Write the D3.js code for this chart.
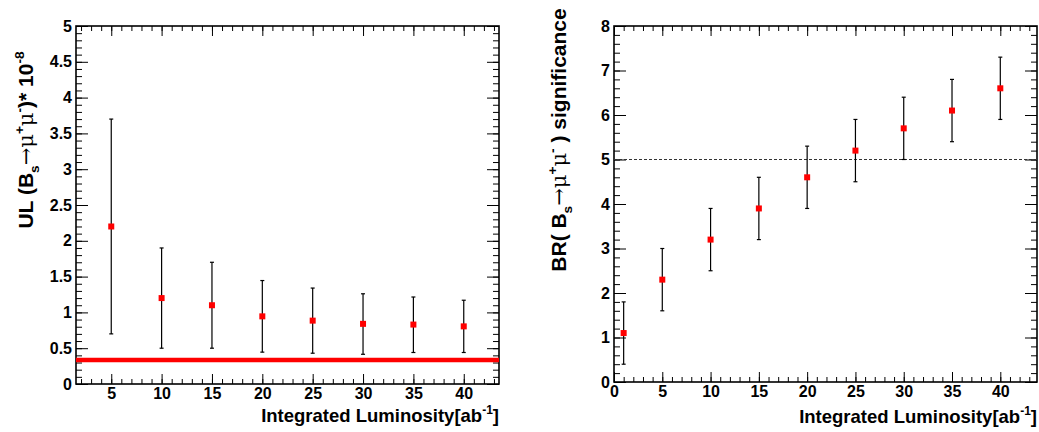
<!DOCTYPE html>
<html>
<head>
<meta charset="utf-8">
<script src="https://cdn.jsdelivr.net/npm/d3@7"></script>
<style>
  body { margin: 0; background: #fff; }
  svg { display: block; }
  text { font-family: "Liberation Sans", Arial, sans-serif; font-weight: bold; fill: #000; }
  .tick line { stroke: #000; stroke-width: 1; }
  .axis path.domain { display: none; }
</style>
</head>
<body>
<div id="chart"></div>
<script>
// left panel: upper limit vs luminosity
const ulLumi = [5, 10, 15, 20, 25, 30, 35, 40];
const ulValue = [2.2, 1.2, 1.1, 0.945, 0.885, 0.84, 0.83, 0.805];
const ulLow = [0.7, 0.5, 0.5, 0.445, 0.43, 0.415, 0.44, 0.44];
const ulHigh = [3.7, 1.9, 1.7, 1.445, 1.34, 1.26, 1.215, 1.17];
const ulLimit = 0.335;
const ulXTicks = [5, 10, 15, 20, 25, 30, 35, 40];
const ulYTicks = [0, 0.5, 1, 1.5, 2, 2.5, 3, 3.5, 4, 4.5, 5];

// right panel: significance vs luminosity
const sigLumi = [1, 5, 10, 15, 20, 25, 30, 35, 40];
const sigValue = [1.1, 2.3, 3.2, 3.9, 4.6, 5.2, 5.7, 6.1, 6.6];
const sigLow = [0.4, 1.6, 2.5, 3.2, 3.9, 4.5, 5.0, 5.4, 5.9];
const sigHigh = [1.8, 3.0, 3.9, 4.6, 5.3, 5.9, 6.4, 6.8, 7.3];
const sigThreshold = 5;
const sigXTicks = [0, 5, 10, 15, 20, 25, 30, 35, 40];
const sigYTicks = [0, 1, 2, 3, 4, 5, 6, 7, 8];

const W = 1039, H = 432;

const svg = d3.select("#chart").append("svg")
    .attr("width", W)
    .attr("height", H);

// write text made of plain / sup / sub pieces
function richText(sel, parts, size) {
    let shift = 0;
    parts.forEach(function (p) {
        let target = 0, fs = size;
        if (p[1] === "sup") { target = -0.45 * size; fs = size * 0.65; }
        if (p[1] === "sub") { target = 0.3 * size; fs = size * 0.65; }
        const t = sel.append("tspan")
            .attr("dy", target - shift)
            .style("font-size", fs + "px")
            .text(p[0]);
        if (p[2]) t.style("font-family", p[2]).style("font-weight", "normal");
        shift = target;
    });
}

function drawPanel(cfg) {
    const x = d3.scaleLinear().domain(cfg.xDomain).range([cfg.left, cfg.right]);
    const y = d3.scaleLinear().domain(cfg.yDomain).range([cfg.bottom, cfg.top]);
    const g = svg.append("g");

    const fmt = d3.format("~g");

    // major + minor ticks on all four sides, pointing inward
    const sides = [
        { axis: d3.axisBottom, scale: x, tr: `translate(0,${cfg.bottom})`, maj: cfg.xTicks, min: cfg.xMinor, len: 10, mlen: 5, lab: true },
        { axis: d3.axisTop, scale: x, tr: `translate(0,${cfg.top})`, maj: cfg.xTicks, min: cfg.xMinor, len: 10, mlen: 5, lab: false },
        { axis: d3.axisLeft, scale: y, tr: `translate(${cfg.left},0)`, maj: cfg.yTicks, min: cfg.yMinor, len: 12, mlen: 6, lab: true },
        { axis: d3.axisRight, scale: y, tr: `translate(${cfg.right},0)`, maj: cfg.yTicks, min: cfg.yMinor, len: 12, mlen: 6, lab: false }
    ];
    sides.forEach(function (s) {
        g.append("g").attr("class", "axis").attr("transform", s.tr)
            .call(s.axis(s.scale).tickValues(s.min).tickSize(-s.mlen).tickFormat(""));
        const a = g.append("g").attr("class", "axis").attr("transform", s.tr)
            .call(s.axis(s.scale).tickValues(s.maj).tickSize(-s.len).tickPadding(4)
                .tickFormat(s.lab ? fmt : ""));
        a.selectAll("text").style("font-size", "16px");
    });

    g.append("rect")
        .attr("x", cfg.left).attr("y", cfg.top)
        .attr("width", cfg.right - cfg.left).attr("height", cfg.bottom - cfg.top)
        .attr("fill", "none").attr("stroke", "#000").attr("stroke-width", 1.6);

    if (cfg.line) {
        g.append("line")
            .attr("x1", cfg.left).attr("x2", cfg.right)
            .attr("y1", y(cfg.line.value)).attr("y2", y(cfg.line.value))
            .attr("stroke", cfg.line.color).attr("stroke-width", cfg.line.width)
            .attr("stroke-dasharray", cfg.line.dash);
    }

    const pts = cfg.xs.map(function (d, i) {
        return { x: d, v: cfg.vals[i], lo: cfg.lows[i], hi: cfg.highs[i] };
    });

    const pt = g.selectAll(".pt").data(pts).enter().append("g").attr("class", "pt");
    pt.append("line")
        .attr("x1", d => x(d.x)).attr("x2", d => x(d.x))
        .attr("y1", d => y(d.lo)).attr("y2", d => y(d.hi))
        .attr("stroke", "#000").attr("stroke-width", 1.2);
    ["lo", "hi"].forEach(function (k) {
        pt.append("line")
            .attr("x1", d => x(d.x) - 2).attr("x2", d => x(d.x) + 2)
            .attr("y1", d => y(d[k])).attr("y2", d => y(d[k]))
            .attr("stroke", "#000").attr("stroke-width", 1.2);
    });
    pt.append("rect")
        .attr("x", d => x(d.x) - 3).attr("y", d => y(d.v) - 3)
        .attr("width", 6).attr("height", 6)
        .attr("fill", "#ff0000");

    // axis titles
    const xt = g.append("text")
        .attr("x", cfg.right).attr("y", cfg.xTitleY)
        .attr("text-anchor", "end")
        .style("font-size", "18.5px");
    richText(xt, cfg.xTitle, 18.5);

    const yt = g.append("text")
        .attr("transform", `translate(${cfg.yTitleX},${cfg.yTitleY}) rotate(-90)`)
        .attr("text-anchor", "middle")
        .style("font-size", "21px");
    richText(yt, cfg.yTitle, 21);
}

const sym = "DejaVu Serif";

drawPanel({
    left: 76, right: 499, top: 26, bottom: 384,
    xDomain: [1.5, 43.5], yDomain: [0, 5],
    xTicks: ulXTicks, yTicks: ulYTicks,
    xMinor: d3.range(2, 44, 1), yMinor: d3.range(0, 5.01, 0.1),
    xs: ulLumi, vals: ulValue, lows: ulLow, highs: ulHigh,
    line: { value: ulLimit, color: "#ff0000", width: 4.5, dash: null },
    xTitleY: 422,
    xTitle: [["Integrated Luminosity[ab"], ["-1", "sup"], ["]"]],
    yTitleX: 33, yTitleY: 140,
    yTitle: [["UL (B"], ["s", "sub"], ["\u2192", "", sym], ["\u03bc", "", sym], ["+", "sup"], ["\u03bc", "", sym], ["-", "sup"], [")* 10"], ["-8", "sup"]]
});

drawPanel({
    left: 614, right: 1037, top: 26, bottom: 382,
    xDomain: [0, 43.8], yDomain: [0, 8],
    xTicks: sigXTicks, yTicks: sigYTicks,
    xMinor: d3.range(1, 44, 1), yMinor: d3.range(0, 8.01, 0.2),
    xs: sigLumi, vals: sigValue, lows: sigLow, highs: sigHigh,
    line: { value: sigThreshold, color: "#333", width: 1, dash: "3,2" },
    xTitleY: 423,
    xTitle: [["Integrated Luminosity[ab"], ["-1", "sup"], ["]"]],
    yTitleX: 566, yTitleY: 140,
    yTitle: [["BR( B"], ["s", "sub"], ["\u2192", "", sym], ["\u03bc", "", sym], ["+", "sup"], ["\u03bc", "", sym], ["-", "sup"], [" ) significance"]]
});
</script>
</body>
</html>
